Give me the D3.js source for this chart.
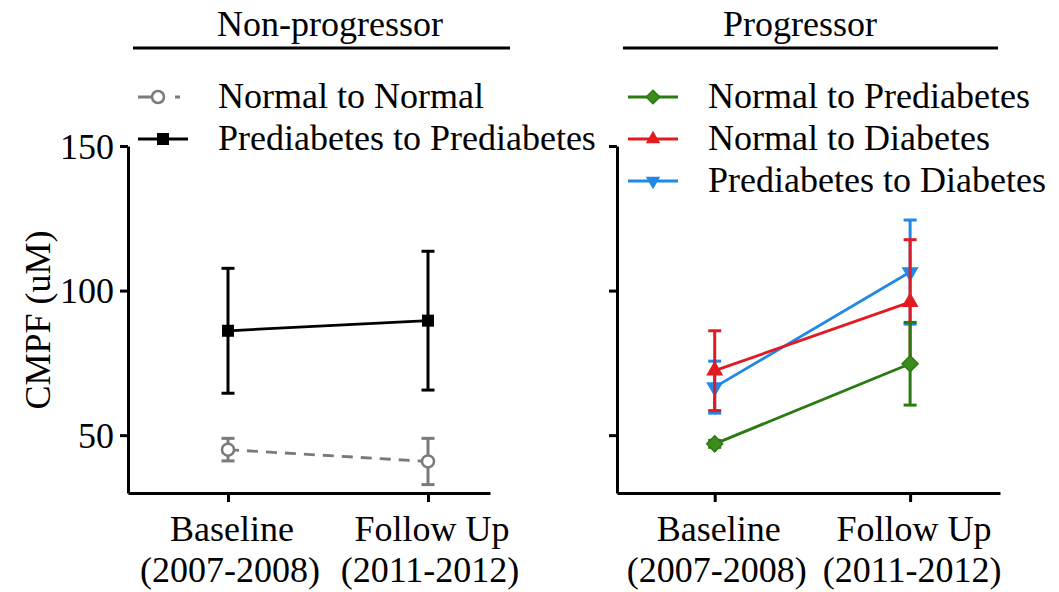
<!DOCTYPE html>
<html>
<head>
<meta charset="utf-8">
<script src="https://cdn.jsdelivr.net/npm/d3@7"></script>
<style>
  html, body { margin: 0; padding: 0; background: #fff; }
  svg { display: block; }
  text { font-family: "Liberation Serif", "Times New Roman", serif; fill: #000; }
</style>
</head>
<body>
<svg id="chart" width="1059" height="592"></svg>
<script>
// Time points on the x axis
const timepoints = ["Baseline|(2007-2008)", "Follow Up|(2011-2012)"];
const yTicks = [50, 100, 150];

// Non-progressor groups: mean and error (CMPF, uM)
const normalToNormal = [45.0, 40.9];
const normalToNormalErr = [3.9, 8.0];
const prediabToPrediab = [86.1, 89.6];
const prediabToPrediabErr = [21.6, 24.0];

// Progressor groups
const normalToPrediab = [47.0, 74.7];
const normalToPrediabErr = [1.2, 14.3];
const normalToDiab = [72.3, 96.0];
const normalToDiabErr = [13.8, 21.6];
const prediabToDiab = [66.6, 106.4];
const prediabToDiabErr = [9.0, 18.0];

const svg = d3.select("#chart");
const FONT = 36;

const y = d3.scaleLinear().domain([30, 150]).range([493, 146]);

const panels = [
  {
    title: "Non-progressor",
    titleX: 330, lineX: [133, 510],
    x: d3.scaleLinear().domain([-0.5, 1.31]).range([128, 490]),
    showLabels: true,
    legendX: 138,
    series: [
      { name: "Normal to Normal", mean: normalToNormal, err: normalToNormalErr,
        color: "#7a7a7a", marker: "circle", dash: "11,8" },
      { name: "Prediabetes to Prediabetes", mean: prediabToPrediab, err: prediabToPrediabErr,
        color: "#000000", marker: "square" }
    ],
    drawOrder: [0, 1]
  },
  {
    title: "Progressor",
    titleX: 800, lineX: [623, 998],
    x: d3.scaleLinear().domain([-0.5, 1.46]).range([617, 1000]),
    showLabels: false,
    legendX: 628,
    series: [
      { name: "Normal to Prediabetes", mean: normalToPrediab, err: normalToPrediabErr,
        color: "#2a7a12", fill: "#3c8c1c", marker: "diamond" },
      { name: "Normal to Diabetes", mean: normalToDiab, err: normalToDiabErr,
        color: "#e01b22", marker: "triangleUp" },
      { name: "Prediabetes to Diabetes", mean: prediabToDiab, err: prediabToDiabErr,
        color: "#2088e6", marker: "triangleDown" }
    ],
    drawOrder: [2, 1, 0]
  }
];

function drawMarker(g, type, cx, cy, s, k = 1) {
  const stroke = s.color, fill = s.fill || s.color;
  if (type === "circle") {
    g.append("circle").attr("cx", cx).attr("cy", cy).attr("r", 6)
      .attr("fill", "#fff").attr("stroke", stroke).attr("stroke-width", 2.5);
  } else if (type === "square") {
    g.append("rect").attr("x", cx - 6).attr("y", cy - 6).attr("width", 12).attr("height", 12)
      .attr("fill", fill);
  } else if (type === "diamond") {
    const r = 8 * k;
    g.append("path").attr("d", `M0,${-r}L${r},0L0,${r}L${-r},0Z`)
      .attr("transform", `translate(${cx},${cy})`)
      .attr("fill", fill).attr("stroke", stroke).attr("stroke-width", 1.5);
  } else if (type === "triangleUp") {
    g.append("path").attr("d", d3.symbol(d3.symbolTriangle, 125 * k * k)())
      .attr("transform", `translate(${cx},${cy})`).attr("fill", fill);
  } else if (type === "triangleDown") {
    g.append("path").attr("d", d3.symbol(d3.symbolTriangle, 125 * k * k)())
      .attr("transform", `translate(${cx},${cy}) rotate(180)`).attr("fill", fill);
  }
}

panels.forEach(p => {
  const g = svg.append("g");
  const x = p.x;

  // Panel heading with underline
  g.append("text").attr("x", p.titleX).attr("y", 36)
    .attr("text-anchor", "middle").attr("font-size", FONT).text(p.title);
  g.append("line").attr("x1", p.lineX[0]).attr("x2", p.lineX[1])
    .attr("y1", 48).attr("y2", 48).attr("stroke", "#000").attr("stroke-width", 3);

  // Y axis
  const yAxis = d3.axisLeft(y).tickValues(yTicks).tickSize(8).tickSizeOuter(0)
    .tickPadding(6).tickFormat(p.showLabels ? d3.format("d") : () => "");
  const ya = g.append("g").attr("transform", `translate(${x.range()[0]},0)`).call(yAxis);
  ya.select(".domain").attr("stroke-width", 3);
  ya.selectAll(".tick line").attr("stroke-width", 3);
  ya.selectAll(".tick text").attr("font-size", FONT)
    .attr("font-family", "Liberation Serif, Times New Roman, serif").attr("dy", "0.34em");

  // X axis
  const xAxis = d3.axisBottom(x).tickValues([0, 1]).tickSize(9).tickSizeOuter(0)
    .tickFormat(() => "");
  const xa = g.append("g").attr("transform", `translate(0,${y.range()[0]})`).call(xAxis);
  xa.select(".domain").attr("stroke-width", 3);
  xa.selectAll(".tick line").attr("stroke-width", 3);

  timepoints.forEach((lbl, i) => {
    const parts = lbl.split("|");
    const t = g.append("text").attr("text-anchor", "middle").attr("font-size", FONT);
    t.append("tspan").attr("x", x(i) + 4).attr("y", 541).text(parts[0]);
    t.append("tspan").attr("x", x(i) + 2).attr("y", 582).text(parts[1]);
  });

  // Series: error bars, lines, markers
  const line = d3.line().x((d, i) => x(i)).y(d => y(d));
  p.drawOrder.forEach(si => {
    const s = p.series[si];
    const sg = g.append("g");
    s.mean.forEach((m, i) => {
      const e = s.err[i];
      sg.append("line").attr("x1", x(i)).attr("x2", x(i))
        .attr("y1", y(m - e)).attr("y2", y(m + e))
        .attr("stroke", s.color).attr("stroke-width", 3);
      [m - e, m + e].forEach(v => {
        sg.append("line").attr("x1", x(i) - 6.5).attr("x2", x(i) + 6.5)
          .attr("y1", y(v)).attr("y2", y(v))
          .attr("stroke", s.color).attr("stroke-width", 3);
      });
    });
    sg.append("path").attr("d", line(s.mean)).attr("fill", "none")
      .attr("stroke", s.color).attr("stroke-width", 2.8)
      .attr("stroke-dasharray", s.dash || null);
    s.mean.forEach((m, i) => drawMarker(sg, s.marker, x(i), y(m), s));
  });

  // Legend
  p.series.forEach((s, i) => {
    const cy = 97 + i * 42;
    const lx = p.legendX;
    const lg = g.append("g");
    lg.append("line").attr("x1", lx).attr("x2", lx + 50).attr("y1", cy).attr("y2", cy)
      .attr("stroke", s.color).attr("stroke-width", 2.8)
      .attr("stroke-dasharray", s.dash ? "13,24,5,40" : null);
    drawMarker(lg, s.marker, s.marker === "circle" ? lx + 20 : lx + 25, cy, s, 0.85);
    lg.append("text").attr("x", lx + 80).attr("y", cy + 11)
      .attr("font-size", FONT).text(s.name);
  });
});

// Shared y-axis title
svg.append("text")
  .attr("transform", "translate(50,320) rotate(-90)")
  .attr("text-anchor", "middle").attr("font-size", FONT)
  .text("CMPF (uM)");
</script>
</body>
</html>
